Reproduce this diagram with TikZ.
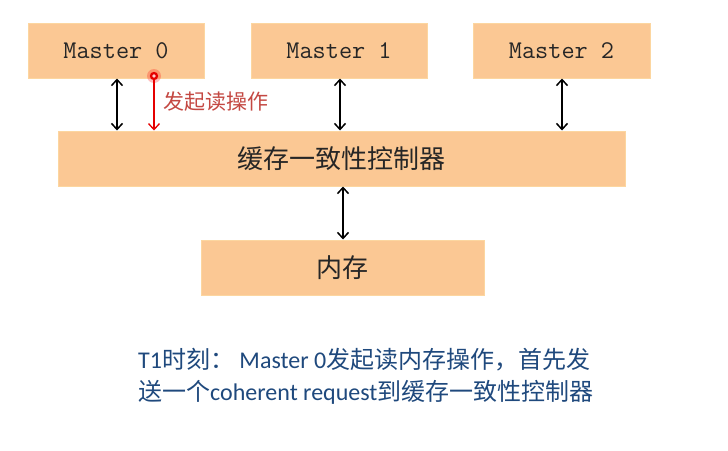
\documentclass[tikz,border=0pt]{standalone}
\usepackage{fontspec}
\usetikzlibrary{arrows.meta,calc}
\newfontfamily\cjk{Noto Sans CJK SC}
\newfontfamily\mastfont{Latin Modern Mono}
\newfontfamily\latfont{Carlito}
\definecolor{boxfill}{RGB}{251,200,148}
\definecolor{boxedge}{RGB}{252,214,160}
\definecolor{lblred}{RGB}{196,72,66}
\definecolor{txtblue}{RGB}{31,73,125}
\tikzset{
  blk/.style={draw=boxedge, line width=1pt, fill=boxfill, minimum height=55pt, inner sep=0pt, text=black!85},
  mastertxt/.style={font=\mastfont\fontsize{25.5}{28}\selectfont},
  cjktxt/.style={font=\cjk\fontsize{26}{28}\selectfont},
  dbl/.style={line width=1.5pt, {Straight Barb[length=6pt,width=11pt,line width=1.5pt]}-{Straight Barb[length=6pt,width=11pt,line width=1.5pt]}},
  redarr/.style={line width=1.3pt, red!90!black, -{Straight Barb[length=6pt,width=11pt,line width=1.3pt]}},
}
\begin{document}
\begin{tikzpicture}[x=1pt,y=-1pt]
\useasboundingbox[fill=white] (0,0) rectangle (728,450);
\node[blk, mastertxt, minimum width=176pt] (m0) at (116,50.5) {Master 0};
\node[blk, mastertxt, minimum width=176pt] (m1) at (339,50.5) {Master 1};
\node[blk, mastertxt, minimum width=177pt] (m2) at (561.5,50.5) {Master 2};
\node[blk, cjktxt, minimum width=567pt] (ctrl) at (341.5,158.5) {缓存一致性控制器};
\node[blk, cjktxt, minimum width=283pt] (mem) at (342.5,267.5) {内存};
\coordinate (a0) at (117,0);
\coordinate (ar) at (154,0);
\coordinate (a1) at (340,0);
\coordinate (a2) at (562,0);
\coordinate (am) at (343,0);
\draw[dbl] (a0 |- m0.south) -- (a0 |- ctrl.north);
\draw[dbl] (a1 |- m1.south) -- (a1 |- ctrl.north);
\draw[dbl] (a2 |- m2.south) -- (a2 |- ctrl.north);
\draw[dbl] (am |- ctrl.south) -- (am |- mem.north);
\coordinate (dot) at (154,76);
\draw[redarr] (dot) -- (ar |- ctrl.north);
\fill[red, opacity=0.25] (dot) circle (7);
\fill[red!90!black] (dot) circle (4.2);
\fill[white!80!red] (dot) circle (1.8);
\node[anchor=west, text=lblred, font=\cjk\fontsize{21}{23}\selectfont, inner sep=0pt] (lbl) at (163,102) {发起读操作};
\node[anchor=west, text=txtblue, font=\latfont\fontsize{24}{26}\selectfont, inner sep=0pt] (t1) at (138,360) {T1{\cjk 时刻：} Master 0{\cjk 发起读内存操作，首先发}};
\node[anchor=west, text=txtblue, font=\latfont\fontsize{24}{26}\selectfont, inner sep=0pt] (t2) at (138,392) {{\cjk 送一个}coherent request{\cjk 到缓存一致性控制器}};
\end{tikzpicture}
\end{document}
